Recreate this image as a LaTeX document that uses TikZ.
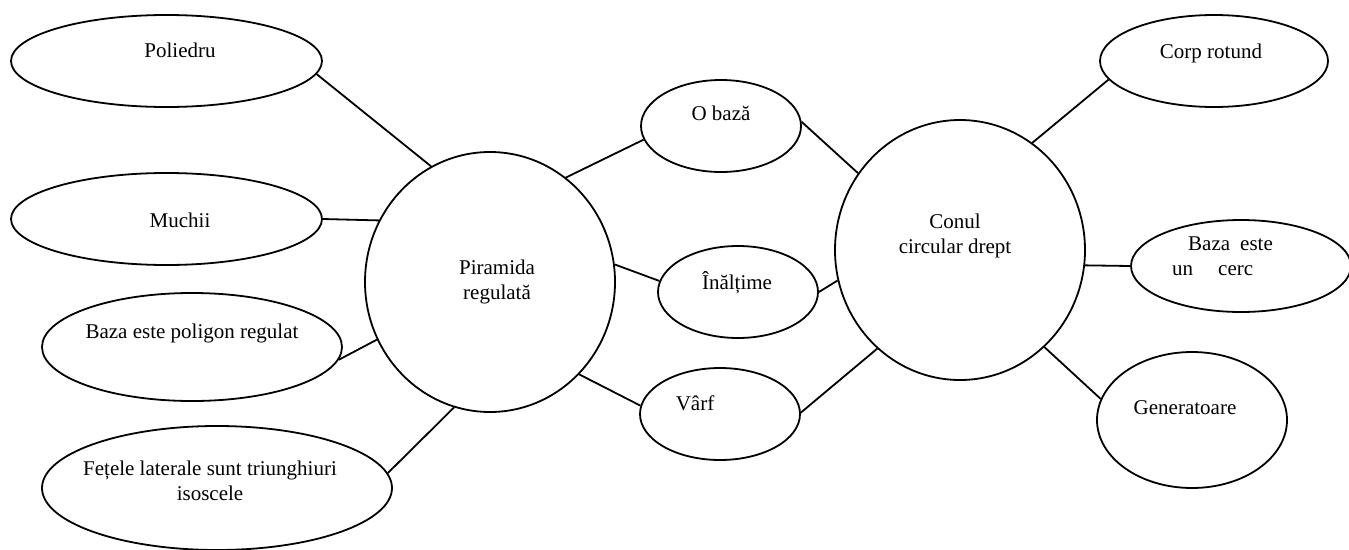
\documentclass[tikz,border=0pt]{standalone}
\usepackage{fontspec}
\setmainfont{Liberation Serif}
\usetikzlibrary{shapes.geometric, positioning}

\begin{document}
\begin{tikzpicture}[
                x=1pt, y=-1pt,
                oval/.style={ellipse, draw, line width=1.8pt, inner sep=0pt},
                txt/.style={font=\fontsize{21}{25}\selectfont, inner sep=0pt, align=center},
                line/.style={draw, line width=1.8pt}
            ]
                \useasboundingbox (0,0) rectangle (1349,549);

                % Place nodes (left side)
                \node [oval, minimum width=311pt, minimum height=92pt] (P_poliedru) at (166.5,61) {};
                \node [oval, minimum width=311pt, minimum height=92pt] (P_muchii) at (166.5,219) {};
                \node [oval, minimum width=300pt, minimum height=108pt] (P_baza) at (192,347) {};
                \node [oval, minimum width=350pt, minimum height=124pt] (P_fete) at (217,488) {};
                \node [oval, minimum width=250pt, minimum height=260pt] (P_piramida) at (490,282) {};

                % middle
                \node [oval, minimum width=160pt, minimum height=92pt] (M_baza) at (721,126) {};
                \node [oval, minimum width=160pt, minimum height=92pt] (M_inaltime) at (738,292) {};
                \node [oval, minimum width=160pt, minimum height=92pt] (M_varf) at (720,414) {};

                % right side
                \node [oval, minimum width=250pt, minimum height=260pt] (C_conul) at (960,250) {};
                \node [oval, minimum width=228pt, minimum height=92pt] (C_corp) at (1214,61) {};
                \node [oval, minimum width=220pt, minimum height=92pt] (C_cerc) at (1241,266) {};
                \node [oval, minimum width=190pt, minimum height=136pt] (C_gen) at (1192,420) {};

                % Texts
                \node [txt] (T_poliedru) at (180,50) {Poliedru};
                \node [txt] (T_muchii) at (180,220) {Muchii};
                \node [txt] (T_baza) at (192,333) {Baza este poligon regulat};
                \node [txt] (T_fete) at (210,481) {Fețele laterale sunt triunghiuri\\isoscele};
                \node [txt] (T_piramida) at (497,282) {Piramida\\regulată};
                \node [txt] (T_mbaza) at (721,113) {O bază};
                \node [txt] (T_inaltime) at (737,283) {Înălțime};
                \node [txt] (T_varf) at (695,403) {Vârf};
                \node [txt] (T_conul) at (955,236) {Conul\\circular drept};
                \node [txt] (T_corp) at (1211,53) {Corp rotund};
                \node [txt, align=left, anchor=west] (T_cerc) at (1172,256) {\hspace*{16pt}Baza\hspace{10pt}este\\un\hspace{25pt}cerc};
                \node [txt] (T_gen) at (1185,408) {Generatoare};

                % Draw edges
                \path [line] (P_poliedru.-5) -- (P_piramida.117);
                \path [line] (P_muchii.0) -- (P_piramida.151);
                \path [line] (P_baza.-5) -- (P_piramida.207);
                \path [line] (P_fete.5) -- (P_piramida.254);
                \path [line] (P_piramida.54) -- (M_baza.190);
                \path [line] (P_piramida.8) -- (M_inaltime.172);
                \path [line] (P_piramida.-46) -- (M_varf.174);
                \path [line] (M_baza.3) -- (C_conul.143);
                \path [line] (M_inaltime.0) -- (C_conul.194);
                \path [line] (M_varf.1) -- (C_conul.230);
                \path [line] (C_conul.56) -- (C_corp.190);
                \path [line] (C_conul.-7) -- (C_cerc.180);
                \path [line] (C_conul.-49) -- (C_gen.167);

            \end{tikzpicture}
\end{document}
